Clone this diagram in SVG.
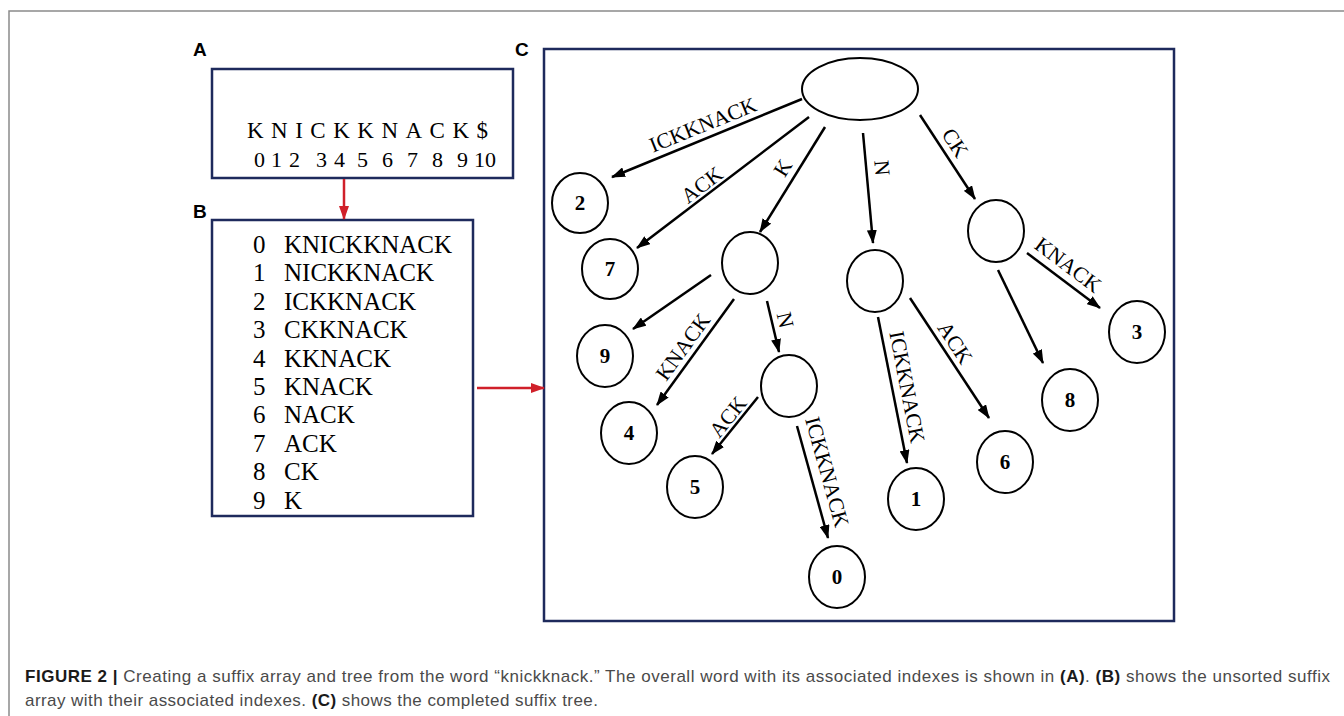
<svg xmlns="http://www.w3.org/2000/svg" width="1344" height="716" viewBox="0 0 1344 716">
<defs>
<marker id="ah" markerWidth="14" markerHeight="10" refX="13" refY="5" orient="auto" markerUnits="userSpaceOnUse"><path d="M0,0 L14,5 L0,10 z" fill="#000"/></marker>
<marker id="rh" markerWidth="14" markerHeight="10" refX="13" refY="5" orient="auto" markerUnits="userSpaceOnUse"><path d="M0,0 L14,5 L0,10 z" fill="#d0202a"/></marker>
<style>
.box{fill:#fff;stroke:#1e2a5c;stroke-width:2.5}
.panel{font-family:"Liberation Sans",Arial,sans-serif;font-weight:bold;font-size:19px;fill:#000}
.serif{font-family:"Liberation Serif","Times New Roman",serif;fill:#000}
.nd{fill:#fff;stroke:#000;stroke-width:2}
.num{font-family:"Liberation Serif","Times New Roman",serif;font-weight:bold;font-size:21px;fill:#000;text-anchor:middle}
.edge{stroke:#000;stroke-width:2.5;fill:none;marker-end:url(#ah)}
.red{stroke:#d0202a;stroke-width:2.5;fill:none;marker-end:url(#rh)}
.lbl{font-family:"Liberation Serif","Times New Roman",serif;font-size:21.5px;fill:#000;text-anchor:middle}
.cap{font-family:"Liberation Sans",Arial,sans-serif;font-size:17px;fill:#4a4a4a}
.capb{font-weight:bold;fill:#1a1a1a}
</style>
</defs>
<rect width="1344" height="716" fill="#fff"/>
<path d="M9,716 L9,11 L1344,11" fill="none" stroke="#8a8a8a" stroke-width="1.5"/>

<g id="panelA">
<text class="panel" x="193" y="56">A</text>
<rect class="box" x="212" y="69" width="301" height="109"/>
<text class="serif" x="247" y="138" font-size="23" textLength="241" lengthAdjust="spacing">KNICKKNACK$</text>
<text class="serif" y="167" font-size="22"><tspan x="254">0</tspan> <tspan x="271">1</tspan> <tspan x="289">2</tspan> <tspan x="316">3</tspan> <tspan x="334">4</tspan> <tspan x="357">5</tspan> <tspan x="382">6</tspan> <tspan x="407">7</tspan> <tspan x="432">8</tspan> <tspan x="457">9</tspan> <tspan x="474">10</tspan></text>
</g>

<g id="panelB">
<text class="panel" x="193" y="218">B</text>
<rect class="box" x="212" y="220" width="261" height="296"/>
<g class="serif" font-size="25">
<text x="253" y="253">0</text><text x="284" y="253">KNICKKNACK</text>
<text x="253" y="281.4">1</text><text x="284" y="281.4">NICKKNACK</text>
<text x="253" y="309.8">2</text><text x="284" y="309.8">ICKKNACK</text>
<text x="253" y="338.2">3</text><text x="284" y="338.2">CKKNACK</text>
<text x="253" y="366.6">4</text><text x="284" y="366.6">KKNACK</text>
<text x="253" y="395">5</text><text x="284" y="395">KNACK</text>
<text x="253" y="423.4">6</text><text x="284" y="423.4">NACK</text>
<text x="253" y="451.8">7</text><text x="284" y="451.8">ACK</text>
<text x="253" y="480.2">8</text><text x="284" y="480.2">CK</text>
<text x="253" y="508.6">9</text><text x="284" y="508.6">K</text>
</g>
</g>

<g id="panelC">
<text class="panel" x="515" y="56">C</text>
<rect class="box" x="544" y="49" width="630" height="572"/>
</g>

<g id="connectors">
<line class="red" x1="344" y1="179" x2="344" y2="219"/>
<line class="red" x1="477" y1="388" x2="544" y2="388"/>
<line class="edge" x1="802" y1="99" x2="612" y2="177"/>
<line class="edge" x1="809" y1="117" x2="637" y2="248"/>
<line class="edge" x1="825" y1="127" x2="760" y2="232"/>
<line class="edge" x1="863" y1="133" x2="873" y2="243"/>
<line class="edge" x1="920" y1="115" x2="975" y2="199"/>
<line class="edge" x1="1027" y1="253" x2="1100" y2="308"/>
<line class="edge" x1="998" y1="270" x2="1043" y2="363"/>
<line class="edge" x1="878" y1="317" x2="907" y2="463"/>
<line class="edge" x1="910" y1="298" x2="989" y2="418"/>
<line class="edge" x1="711" y1="275" x2="633" y2="329"/>
<line class="edge" x1="734" y1="299" x2="657" y2="405"/>
<line class="edge" x1="767" y1="301" x2="779" y2="352"/>
<line class="edge" x1="758" y1="397" x2="712" y2="454"/>
<line class="edge" x1="797" y1="426" x2="828" y2="538"/>
<text class="lbl" transform="translate(703,125) rotate(-22)" y="7">ICKKNACK</text>
<text class="lbl" transform="translate(702,185) rotate(-37)" y="7">ACK</text>
<text class="lbl" transform="translate(783,168) rotate(-58)" y="7">K</text>
<text class="lbl" transform="translate(882,168) rotate(85)" y="7">N</text>
<text class="lbl" transform="translate(955,143) rotate(57)" y="7">CK</text>
<text class="lbl" transform="translate(1068,265) rotate(37)" y="7">KNACK</text>
<text class="lbl" transform="translate(907,387) rotate(79)" y="7">ICKKNACK</text>
<text class="lbl" transform="translate(955,343) rotate(57)" y="7">ACK</text>
<text class="lbl" transform="translate(683,347) rotate(-54)" y="7">KNACK</text>
<text class="lbl" transform="translate(785,320) rotate(77)" y="7">N</text>
<text class="lbl" transform="translate(728,417) rotate(-51)" y="7">ACK</text>
<text class="lbl" transform="translate(827,472) rotate(74.5)" y="7">ICKKNACK</text>
</g>

<g id="root"><ellipse class="nd" cx="860" cy="89" rx="58" ry="31"/></g>
<g id="nodeK"><ellipse class="nd" cx="750" cy="263" rx="28" ry="31"/></g>
<g id="nodeN"><ellipse class="nd" cx="875" cy="281" rx="28" ry="31"/></g>
<g id="nodeCK"><ellipse class="nd" cx="996" cy="231" rx="28" ry="31"/></g>
<g id="nodeKN"><ellipse class="nd" cx="789" cy="386" rx="28" ry="31"/></g>
<g id="leaf2"><ellipse class="nd" cx="580" cy="203" rx="28" ry="30"/><text class="num" x="580" y="210">2</text></g>
<g id="leaf7"><ellipse class="nd" cx="610" cy="269" rx="28" ry="30"/><text class="num" x="610" y="276">7</text></g>
<g id="leaf9"><ellipse class="nd" cx="605" cy="356" rx="28" ry="31"/><text class="num" x="605" y="363">9</text></g>
<g id="leaf4"><ellipse class="nd" cx="629" cy="433" rx="28" ry="31"/><text class="num" x="629" y="440">4</text></g>
<g id="leaf5"><ellipse class="nd" cx="695" cy="487" rx="28" ry="31"/><text class="num" x="695" y="494">5</text></g>
<g id="leaf0"><ellipse class="nd" cx="837" cy="577" rx="28" ry="31"/><text class="num" x="837" y="584">0</text></g>
<g id="leaf1"><ellipse class="nd" cx="916" cy="499" rx="28" ry="31"/><text class="num" x="916" y="506">1</text></g>
<g id="leaf6"><ellipse class="nd" cx="1005" cy="462" rx="28" ry="31"/><text class="num" x="1005" y="469">6</text></g>
<g id="leaf8"><ellipse class="nd" cx="1070" cy="400" rx="28" ry="31"/><text class="num" x="1070" y="407">8</text></g>
<g id="leaf3"><ellipse class="nd" cx="1137" cy="332" rx="28" ry="31"/><text class="num" x="1137" y="339">3</text></g>

<g id="caption">
<text class="cap" x="25" y="682" textLength="1305" lengthAdjust="spacing"><tspan class="capb">FIGURE 2</tspan> <tspan class="capb">|</tspan> Creating a suffix array and tree from the word “knickknack.” The overall word with its associated indexes is shown in <tspan class="capb">(A)</tspan>. <tspan class="capb">(B)</tspan> shows the unsorted suffix</text>
<text class="cap" x="25" y="706" textLength="573" lengthAdjust="spacing">array with their associated indexes. <tspan class="capb">(C)</tspan> shows the completed suffix tree.</text>
</g>
</svg>
